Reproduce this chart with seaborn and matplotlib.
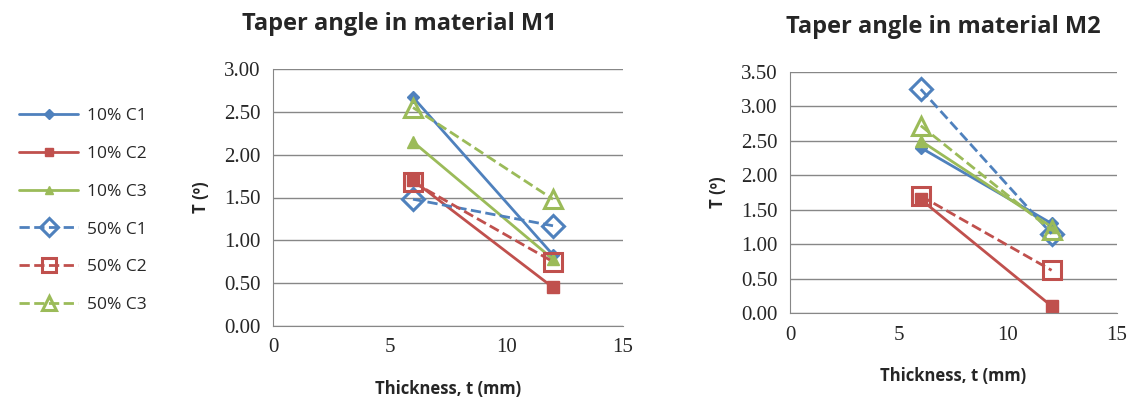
import pandas as pd
import seaborn as sns
import matplotlib.pyplot as plt

# thickness values (mm)
thickness = [6, 12]

# series names
series_names = ['10% C1', '10% C2', '10% C3', '50% C1', '50% C2', '50% C3']

# taper angle in material M1
m1_c1_10 = [2.67, 0.83]
m1_c2_10 = [1.70, 0.45]
m1_c3_10 = [2.15, 0.78]
m1_c1_50 = [1.48, 1.17]
m1_c2_50 = [1.68, 0.75]
m1_c3_50 = [2.55, 1.48]

# taper angle in material M2
m2_c1_10 = [2.40, 1.30]
m2_c2_10 = [1.65, 0.10]
m2_c3_10 = [2.50, 1.25]
m2_c1_50 = [3.25, 1.15]
m2_c2_50 = [1.70, 0.62]
m2_c3_50 = [2.72, 1.20]

m1_values = [m1_c1_10, m1_c2_10, m1_c3_10, m1_c1_50, m1_c2_50, m1_c3_50]
m2_values = [m2_c1_10, m2_c2_10, m2_c3_10, m2_c1_50, m2_c2_50, m2_c3_50]

sns.set_style('white')
plt.rcParams['font.family'] = ['Open Sans', 'DejaVu Sans']

colors = ['#4F81BD', '#C0504D', '#9BBB59', '#4F81BD', '#C0504D', '#9BBB59']
markers = ['D', 's', '^', 'D', 's', '^']
sizes = [6, 8, 8, 11, 13, 13]
filled = [True, True, True, False, False, False]
lines = ['-', '-', '-', '--', '--', '--']


def draw(ax, values, title, ymax):
    for i, name in enumerate(series_names):
        df = pd.DataFrame({'t': thickness, 'T': values[i]})
        sns.lineplot(data=df, x='t', y='T', ax=ax, color=colors[i],
                     linestyle=lines[i], linewidth=2, marker=markers[i],
                     markersize=sizes[i],
                     markerfacecolor=colors[i] if filled[i] else 'none',
                     markeredgecolor=colors[i],
                     markeredgewidth=1 if filled[i] else 2.2,
                     label=name, legend=False)
    ax.set_xlim(0, 15)
    ax.set_ylim(0, ymax)
    ax.set_xticks([0, 5, 10, 15])
    ax.set_yticks([k * 0.5 for k in range(int(ymax / 0.5) + 1)])
    ax.set_yticklabels([f'{k * 0.5:.2f}' for k in range(int(ymax / 0.5) + 1)])
    for lab in ax.get_xticklabels() + ax.get_yticklabels():
        lab.set_family('Liberation Serif')
        lab.set_fontsize(15)
    ax.yaxis.grid(True, color='#878787', linewidth=1)
    ax.set_axisbelow(True)
    for side in ['top', 'right']:
        ax.spines[side].set_visible(False)
    for side in ['left', 'bottom']:
        ax.spines[side].set_color('#878787')
    ax.tick_params(length=0, pad=9)
    ax.set_xlabel('Thickness, t (mm)', fontsize=12, fontweight='bold', labelpad=16)
    ax.set_ylabel('T (º)', fontsize=12, fontweight='bold', labelpad=10)
    ax.set_title(title, fontsize=17, fontweight='bold', pad=28)


fig = plt.figure(figsize=(11.31, 4.01), dpi=100)
ax1 = fig.add_axes([273 / 1131, 1 - 326 / 401, 350 / 1131, 257 / 401])
ax2 = fig.add_axes([790 / 1131, 1 - 313 / 401, 327 / 1131, 241 / 401])

draw(ax1, m1_values, 'Taper angle in material M1', 3.0)
draw(ax2, m2_values, 'Taper angle in material M2', 3.5)
ax1.title.set_position((0.36, 1))
ax2.title.set_position((0.47, 1))

handles, labels = ax1.get_legend_handles_labels()
fig.legend(handles, labels, loc='upper left', bbox_to_anchor=(0.003, 0.77),
           frameon=False, fontsize=12.5, labelspacing=1.25, handlelength=3.4,
           handletextpad=0.5, markerscale=0.8)

fig.savefig('out.png', dpi=100)
